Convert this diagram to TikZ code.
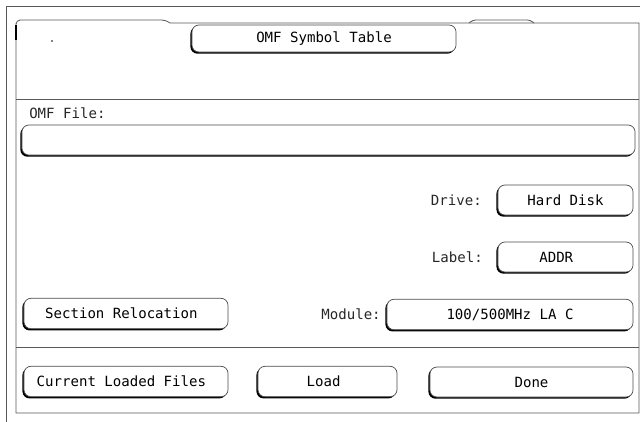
\documentclass[tikz,border=0pt]{standalone}
\usepackage{fontspec}
\usepackage{tikz}
\usetikzlibrary{positioning, shadows}
\newfontfamily\hpfont{DejaVu Sans Mono}

\begin{document}
\begin{tikzpicture}[
  x=0.025cm, y=-0.025cm,
  frame/.style={draw=black!65, line width=0.6pt},
  button/.style={draw=black!70, fill=white, rounded corners=5pt,
    line width=0.5pt, inner sep=0pt, minimum height=0.76cm,
    font=\hpfont\fontsize{10}{12}\selectfont,
    general shadow={fill=black, shadow xshift=-1.1pt, shadow yshift=-1.2pt}},
  label/.style={font=\hpfont\fontsize{10}{12}\selectfont, text=black!85,
    inner sep=0pt}
]
\useasboundingbox (0,0) rectangle (640,422);

% Outer frame and panel
\draw[frame] (6,422) -- (6,6) -- (640,6);
\draw[frame] (16,413) -- (16,23) [rounded corners=3pt] -- (16,20) -- (166,20)
  [sharp corners] -- (170,23) -- (639,23) -- (639,413) -- cycle;
\draw[frame, rounded corners=2pt] (469,23) -- (473,20) -- (530,20) -- (534,23);
\draw[frame] (16,99) -- (639,99);
\draw[frame] (16,347) -- (639,347);
\draw[line width=1.6pt] (16,25) -- (16,40);
\fill (52,41) circle (0.7pt);

% Title
\node[button, minimum width=6.6cm, minimum height=0.675cm] (title) at (324,38.5)
  {OMF Symbol Table};

% File entry
\node[label, anchor=west] (filelbl) at (29,113) {OMF File:};
\node[button, minimum width=15.325cm, minimum height=0.75cm] (file) at (328.5,140) {};

% Drive / Label / Module fields
\node[button, minimum width=3.375cm, minimum height=0.75cm] (drive) at (565.5,200)
  {Hard Disk};
\node[label, anchor=east] (drivelbl) at (482,200) {Drive:};
\node[button, minimum width=3.375cm, minimum height=0.75cm] (addr) at (565.5,257)
  {ADDR\hspace*{2.4ex}};
\node[label, anchor=east] (addrlbl) at (483,257) {Label:};
\node[button, minimum width=6.15cm] (module) at (510,314.5)
  {100/500MHz LA C};
\node[label, anchor=east] (modlbl) at (381,314.5) {Module:};
\node[button, minimum width=5.1cm] (reloc) at (126,313.5)
  {Section Relocation\hspace*{1.2ex}};

% Bottom row
\node[button, minimum width=5.1cm] (current) at (126,381.5)
  {Current Loaded Files\hspace*{1.2ex}};
\node[button, minimum width=3.475cm] (load) at (327.5,381.5)
  {Load\hspace*{1ex}};
\node[button, minimum width=5.075cm, minimum height=0.75cm] (done) at (531.5,382)
  {Done};

\end{tikzpicture}
\end{document}
